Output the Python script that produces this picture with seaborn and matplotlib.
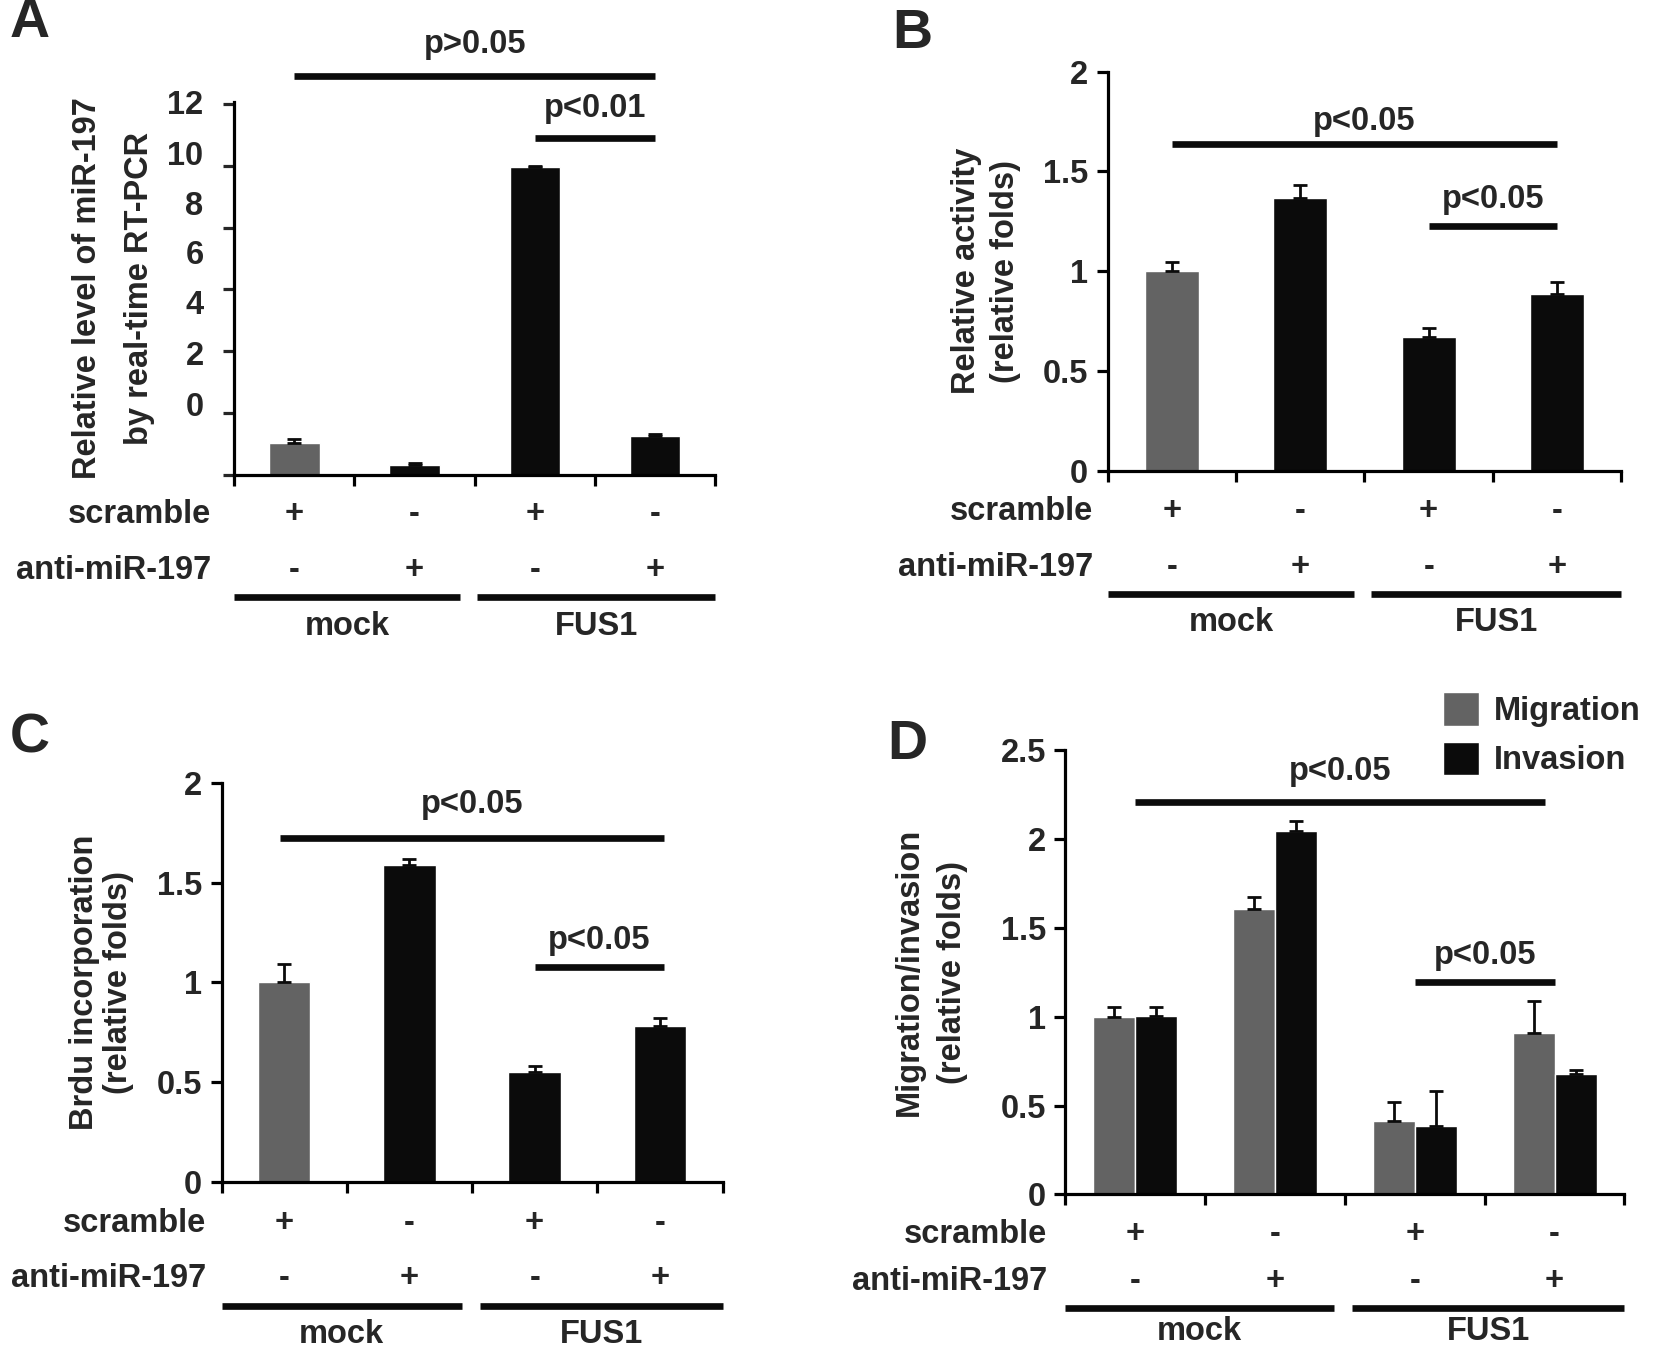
import matplotlib
matplotlib.use("Agg")
import matplotlib.pyplot as plt
import matplotlib.transforms as mtransforms
import numpy as np
import pandas as pd
import seaborn as sns

# dados
groups = ["mock_scr", "mock_anti", "fus1_scr", "fus1_anti"]
scramble_signs = ["+", "-", "+", "-"]
anti_signs = ["-", "+", "-", "+"]

a_values = [1.04, 0.33, 9.95, 1.24]
a_err = [0.11, 0.05, 0.05, 0.09]
a_tick_labels = ["12", "10", "8", "6", "4", "2", "0"]
a_tick_pos = [12.05, 10.4, 8.8, 7.2, 5.6, 3.95, 2.3]

b_values = [1.0, 1.365, 0.67, 0.885]
b_err = [0.045, 0.065, 0.046, 0.063]

c_values = [1.0, 1.589, 0.549, 0.782]
c_err = [0.094, 0.031, 0.03, 0.039]

d_migration = [1.0, 1.605, 0.411, 0.906]
d_mig_err = [0.052, 0.07, 0.107, 0.183]
d_invasion = [1.005, 2.047, 0.387, 0.678]
d_inv_err = [0.05, 0.055, 0.197, 0.021]

GREY = "#636363"
BLACK = "#0b0b0b"
# posicoes medidas num quadro de 1568x1288 (a figura tem 1654x1359)
W, H = 1568, 1288
FS = 23.5
LW = 4.8

sns.set_style("white")
plt.rcParams["font.family"] = ["Liberation Sans", "DejaVu Sans"]
plt.rcParams["font.weight"] = "bold"
plt.rcParams["axes.labelweight"] = "bold"

fig = plt.figure(figsize=(16.54, 13.59), dpi=100)


def make_axes(l, r, t, b):
    return fig.add_axes([l / W, 1 - b / H, (r - l) / W, (b - t) / H])


def style_axes(ax, ymax, yticks=None):
    ax.set_xlim(-0.5, 3.5)
    ax.set_ylim(0, ymax)
    for s in ["top", "right"]:
        ax.spines[s].set_visible(False)
    for s in ["left", "bottom"]:
        ax.spines[s].set_linewidth(2.3)
        ax.spines[s].set_color("black")
    ax.set_xticks([-0.5, 0.5, 1.5, 2.5, 3.5])
    ax.set_xticklabels([])
    ax.set_xlabel("")
    if yticks is not None:
        ax.set_yticks(yticks)
        ax.set_yticklabels([f"{t:g}" for t in yticks])
    ax.tick_params(axis="both", direction="out", length=8, width=2.3,
                   color="black", labelsize=FS, pad=6, left=True, bottom=True)
    for lab in ax.get_yticklabels():
        lab.set_fontweight("bold")


def sig_bar(ax, x0, x1, y, text, dy=20):
    ax.plot([x0, x1], [y, y], color=BLACK, lw=LW, clip_on=False,
            solid_capstyle="butt")
    ax.annotate(text, xy=((x0 + x1) / 2, y), xytext=(0, dy),
                textcoords="offset points", ha="center", va="center",
                fontsize=FS, fontweight="bold", annotation_clip=False)


def bottom_rows(ax, offsets, label_x, gap):
    # offsets: distancia (px) abaixo do eixo para scramble, anti, linha, grupo
    base = ax.get_position().y0 * H
    trans = mtransforms.blended_transform_factory(ax.transData, fig.transFigure)
    y_scr, y_anti, y_line, y_grp = [(base - o) / H for o in offsets]
    ax.text(label_x, y_scr, "scramble", transform=trans, ha="right",
            va="center", fontsize=FS, fontweight="bold")
    ax.text(label_x, y_anti, "anti-miR-197", transform=trans, ha="right",
            va="center", fontsize=FS, fontweight="bold")
    for i in range(4):
        ax.text(i, y_scr, scramble_signs[i], transform=trans, ha="center",
                va="center", fontsize=FS, fontweight="bold")
        ax.text(i, y_anti, anti_signs[i], transform=trans, ha="center",
                va="center", fontsize=FS, fontweight="bold")
    ax.plot([-0.5, gap[0]], [y_line, y_line], transform=trans, color=BLACK,
            lw=LW, clip_on=False, solid_capstyle="butt")
    ax.plot([gap[1], 3.5], [y_line, y_line], transform=trans, color=BLACK,
            lw=LW, clip_on=False, solid_capstyle="butt")
    ax.text((-0.5 + gap[0]) / 2, y_grp, "mock", transform=trans, ha="center",
            va="center", fontsize=FS, fontweight="bold")
    ax.text((gap[1] + 3.5) / 2, y_grp, "FUS1", transform=trans, ha="center",
            va="center", fontsize=FS, fontweight="bold")


def simple_bars(ax, values, err):
    df = pd.DataFrame({"group": groups, "value": values})
    sns.barplot(data=df, x="group", y="value", hue="group", order=groups,
                hue_order=groups, palette=[GREY, BLACK, BLACK, BLACK],
                width=0.42, errorbar=None, legend=False, ax=ax)
    ax.errorbar(range(4), values, yerr=[np.zeros(4), err], fmt="none",
                ecolor=BLACK, elinewidth=2, capsize=5, capthick=2)


def set_ylab(ax, text, xpos, spacing=1.3):
    ax.set_ylabel(text, fontsize=FS, fontweight="bold", linespacing=spacing)
    ax.yaxis.set_label_coords(xpos, 0.5)


# ---------- A ----------
axA = make_axes(222, 678, 97, 450)
simple_bars(axA, a_values, a_err)
style_axes(axA, 12)
axA.set_yticks(np.arange(0, 13, 2), minor=True)
axA.set_yticks(a_tick_pos)
axA.set_yticklabels(a_tick_labels)
axA.tick_params(axis="y", which="major", length=0, pad=22, labelsize=FS)
axA.tick_params(axis="y", which="minor", direction="out", length=8, width=2.3,
                left=True)
for lab in axA.get_yticklabels():
    lab.set_fontweight("bold")
set_ylab(axA, "Relative level of miR-197\nby real-time RT-PCR", -0.165, 1.85)
sig_bar(axA, 0, 3, 12.9, "p>0.05", dy=23)
sig_bar(axA, 2, 3, 10.9, "p<0.01", dy=21)
bottom_rows(axA, [38, 91, 116, 144], -0.69, (1.38, 1.52))

# ---------- B ----------
axB = make_axes(1050, 1537, 68, 446)
simple_bars(axB, b_values, b_err)
style_axes(axB, 2, [0, 0.5, 1, 1.5, 2])
set_ylab(axB, "Relative activity\n(relative folds)", -0.168, 1.35)
sig_bar(axB, 0, 3, 1.637, "p<0.05", dy=16)
sig_bar(axB, 2, 3, 1.228, "p<0.05", dy=19)
bottom_rows(axB, [39, 92, 117, 144], -0.61, (1.42, 1.55))

# ---------- C ----------
axC = make_axes(210, 685, 742, 1120)
simple_bars(axC, c_values, c_err)
style_axes(axC, 2, [0, 0.5, 1, 1.5, 2])
set_ylab(axC, "Brdu incorporation\n(relative folds)", -0.175, 1.1)
sig_bar(axC, -0.03, 3.03, 1.724, "p<0.05", dy=24)
sig_bar(axC, 2, 3.03, 1.078, "p<0.05", dy=19)
bottom_rows(axC, [40, 92, 118, 145], -0.62, (1.42, 1.56))

# ---------- D ----------
axD = make_axes(1010, 1540, 711, 1132)
dfD = pd.DataFrame({
    "group": groups * 2,
    "assay": ["Migration"] * 4 + ["Invasion"] * 4,
    "value": d_migration + d_invasion,
})
sns.barplot(data=dfD, x="group", y="value", hue="assay", order=groups,
            hue_order=["Migration", "Invasion"], palette=[GREY, BLACK],
            width=0.6, errorbar=None, ax=axD)
xpos = np.arange(4)
axD.errorbar(xpos - 0.15, d_migration, yerr=[np.zeros(4), d_mig_err],
             fmt="none", ecolor=BLACK, elinewidth=2, capsize=5, capthick=2)
axD.errorbar(xpos + 0.15, d_invasion, yerr=[np.zeros(4), d_inv_err],
             fmt="none", ecolor=BLACK, elinewidth=2, capsize=5, capthick=2)
style_axes(axD, 2.5, [0, 0.5, 1, 1.5, 2, 2.5])
set_ylab(axD, "Migration/invasion\n(relative folds)", -0.174, 1.5)
sig_bar(axD, 0, 2.93, 2.207, "p<0.05", dy=22)
sig_bar(axD, 2, 3, 1.194, "p<0.05", dy=19)
bottom_rows(axD, [38, 83, 108, 130], -0.63, (1.42, 1.55))
sns.move_legend(axD, "upper left", bbox_to_anchor=(0.652, 1.16), frameon=False,
                title=None, fontsize=FS, handlelength=1.1, handleheight=1.2,
                handletextpad=0.45, labelspacing=0.45, borderaxespad=0)
for t in axD.get_legend().get_texts():
    t.set_fontweight("bold")

# letras dos paineis
for letter, x, y in [("A", 28, 22), ("B", 865, 32), ("C", 28, 700), ("D", 860, 706)]:
    fig.text(x / W, 1 - y / H, letter, fontsize=40, fontweight="bold",
             ha="center", va="center")

fig.savefig("out.png", dpi=100)
